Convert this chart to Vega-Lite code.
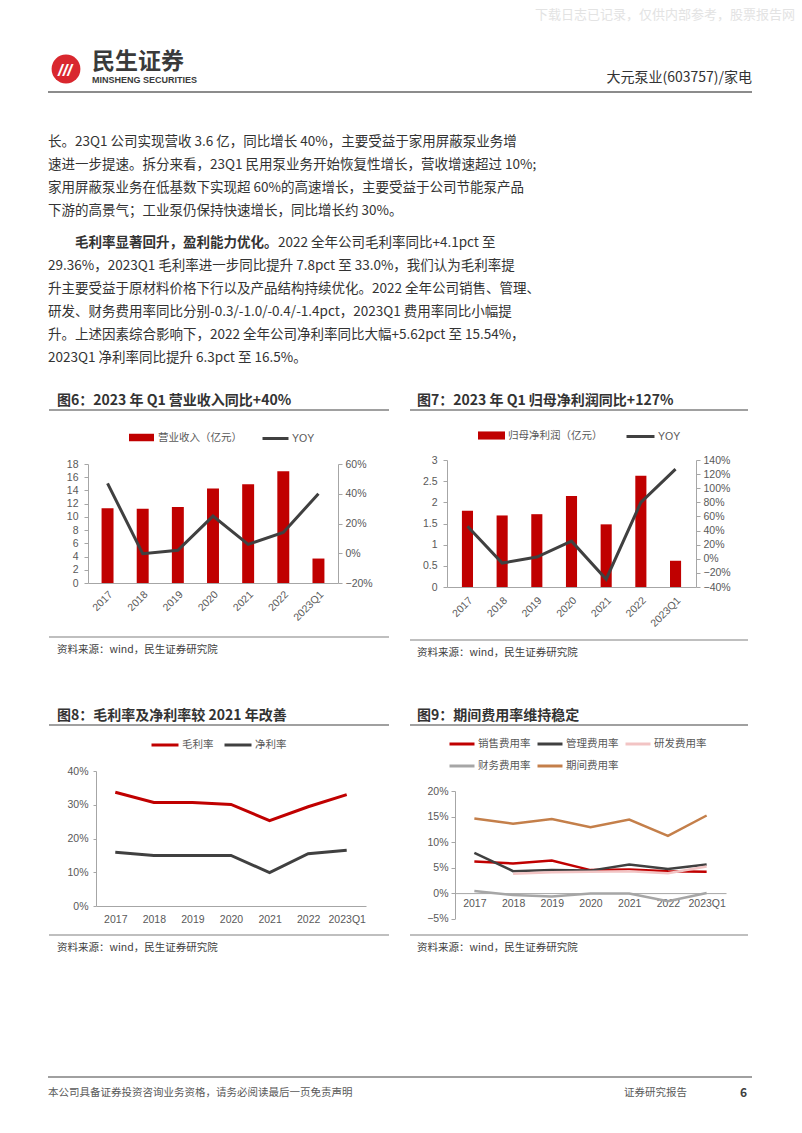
{
  "$schema": "https://vega.github.io/schema/vega-lite/v6.json",
  "background": "white",
  "padding": {"left": 28, "top": 0, "right": 0, "bottom": 0},
  "config": {
    "view": {"stroke": null},
    "font": "Noto Sans CJK SC",
    "axis": {"grid": false, "labelColor": "#595959", "labelFontSize": 10.5, "labelFont": "Liberation Sans", "domainColor": "#A6A6A6", "tickColor": "#A6A6A6"},
    "legend": {"labelFont": "Liberation Sans, Noto Sans CJK SC", "labelFontSize": 10.5, "labelColor": "#595959", "padding": 0}
  },
  "resolve": {"scale": {"color": "independent", "fill": "independent", "stroke": "independent"}, "legend": {"color": "independent", "fill": "independent", "stroke": "independent"}},
  "columns": 1,
  "align": "none",
  "spacing": 0,
  "concat": [
    {
      "width": 704,
      "height": 394,
      "resolve": {"scale": {"y": "independent"}},
      "layer": [
        {
          "data": {"values": [{"t": "下载日志已记录，仅供内部参考，股票报告网"}]},
          "mark": {"type": "text", "align": "left", "baseline": "middle", "fontSize": 13, "color": "#E3E3E3"},
          "encoding": {
            "x": {"datum": 487, "type": "quantitative", "scale": {"domain": [-20, 684], "nice": false, "zero": false}, "axis": null},
            "y": {"datum": 15, "type": "quantitative", "scale": {"domain": [0, 394], "nice": false, "reverse": true}, "axis": null},
            "text": {"field": "t"}
          }
        },
        {
          "data": {"values": [{"t": "logo"}]},
          "mark": {"type": "point", "shape": "circle", "filled": true, "size": 830, "color": "#D9272E", "opacity": 1},
          "encoding": {
            "x": {"datum": 18, "type": "quantitative", "scale": {"domain": [-20, 684], "nice": false, "zero": false}, "axis": null},
            "y": {"datum": 69, "type": "quantitative", "scale": {"domain": [0, 394], "nice": false, "reverse": true}, "axis": null}
          }
        },
        {
          "data": {"values": [{"t": "///"}]},
          "mark": {"type": "text", "align": "center", "baseline": "middle", "fontSize": 17, "fontWeight": "bold", "fontStyle": "italic", "color": "white", "font": "Liberation Sans"},
          "encoding": {
            "x": {"datum": 17, "type": "quantitative", "scale": {"domain": [-20, 684], "nice": false, "zero": false}, "axis": null},
            "y": {"datum": 71, "type": "quantitative", "scale": {"domain": [0, 394], "nice": false, "reverse": true}, "axis": null},
            "text": {"field": "t"}
          }
        },
        {
          "data": {"values": [{"t": "民生证券"}]},
          "mark": {"type": "text", "align": "left", "baseline": "middle", "fontSize": 23, "fontWeight": "bold", "color": "#3A3A3A"},
          "encoding": {
            "x": {"datum": 44, "type": "quantitative", "scale": {"domain": [-20, 684], "nice": false, "zero": false}, "axis": null},
            "y": {"datum": 62, "type": "quantitative", "scale": {"domain": [0, 394], "nice": false, "reverse": true}, "axis": null},
            "text": {"field": "t"}
          }
        },
        {
          "data": {"values": [{"t": "MINSHENG SECURITIES"}]},
          "mark": {"type": "text", "align": "left", "baseline": "middle", "fontSize": 9, "fontWeight": "bold", "color": "#3A3A3A", "font": "Liberation Sans Narrow, Liberation Sans"},
          "encoding": {
            "x": {"datum": 44, "type": "quantitative", "scale": {"domain": [-20, 684], "nice": false, "zero": false}, "axis": null},
            "y": {"datum": 80, "type": "quantitative", "scale": {"domain": [0, 394], "nice": false, "reverse": true}, "axis": null},
            "text": {"field": "t"}
          }
        },
        {
          "data": {"values": [{"t": "大元泵业(603757)/家电"}]},
          "mark": {"type": "text", "align": "right", "baseline": "middle", "fontSize": 14, "color": "#333333"},
          "encoding": {
            "x": {"datum": 704, "type": "quantitative", "scale": {"domain": [-20, 684], "nice": false, "zero": false}, "axis": null},
            "y": {"datum": 78, "type": "quantitative", "scale": {"domain": [0, 394], "nice": false, "reverse": true}, "axis": null},
            "text": {"field": "t"}
          }
        },
        {
          "data": {"values": [{"t": "rule"}]},
          "mark": {"type": "rule", "color": "#8C8C8C", "strokeWidth": 2},
          "encoding": {
            "x": {"datum": 0, "type": "quantitative", "scale": {"domain": [-20, 684], "nice": false, "zero": false}, "axis": null},
            "x2": {"datum": 704},
            "y": {"datum": 92, "type": "quantitative", "scale": {"domain": [0, 394], "nice": false, "reverse": true}, "axis": null}
          }
        },
        {
          "data": {"values": [
            {"line": 0, "text": "长。23Q1 公司实现营收 3.6 亿，同比增长 40%，主要受益于家用屏蔽泵业务增"},
            {"line": 1, "text": "速进一步提速。拆分来看，23Q1 民用泵业务开始恢复性增长，营收增速超过 10%;"},
            {"line": 2, "text": "家用屏蔽泵业务在低基数下实现超 60%的高速增长，主要受益于公司节能泵产品"},
            {"line": 3, "text": "下游的高景气；工业泵仍保持快速增长，同比增长约 30%。"}
          ]},
          "mark": {"type": "text", "align": "left", "baseline": "middle", "fontSize": 13.5, "color": "#333333"},
          "encoding": {
            "x": {"datum": 0, "type": "quantitative", "scale": {"domain": [-20, 684], "nice": false, "zero": false}, "axis": null},
            "y": {"field": "line", "type": "quantitative", "scale": {"domain": [0, 3], "range": [142, 211], "nice": false, "zero": false}, "axis": null},
            "text": {"field": "text"}
          }
        },
        {
          "data": {"values": [{"line": 0, "text": "毛利率显著回升，盈利能力优化。"}]},
          "mark": {"type": "text", "align": "left", "baseline": "middle", "fontSize": 13.5, "fontWeight": "bold", "color": "#333333"},
          "encoding": {
            "x": {"datum": 27, "type": "quantitative", "scale": {"domain": [-20, 684], "nice": false, "zero": false}, "axis": null},
            "y": {"field": "line", "type": "quantitative", "scale": {"domain": [0, 5], "range": [243, 358], "nice": false, "zero": false}, "axis": null},
            "text": {"field": "text"}
          }
        },
        {
          "data": {"values": [{"line": 0, "text": "2022 全年公司毛利率同比+4.1pct 至"}]},
          "mark": {"type": "text", "align": "left", "baseline": "middle", "fontSize": 13.5, "color": "#333333"},
          "encoding": {
            "x": {"datum": 230, "type": "quantitative", "scale": {"domain": [-20, 684], "nice": false, "zero": false}, "axis": null},
            "y": {"field": "line", "type": "quantitative", "scale": {"domain": [0, 5], "range": [243, 358], "nice": false, "zero": false}, "axis": null},
            "text": {"field": "text"}
          }
        },
        {
          "data": {"values": [
            {"line": 1, "text": "29.36%，2023Q1 毛利率进一步同比提升 7.8pct 至 33.0%，我们认为毛利率提"},
            {"line": 2, "text": "升主要受益于原材料价格下行以及产品结构持续优化。2022 全年公司销售、管理、"},
            {"line": 3, "text": "研发、财务费用率同比分别-0.3/-1.0/-0.4/-1.4pct，2023Q1 费用率同比小幅提"},
            {"line": 4, "text": "升。上述因素综合影响下，2022 全年公司净利率同比大幅+5.62pct 至 15.54%，"},
            {"line": 5, "text": "2023Q1 净利率同比提升 6.3pct 至 16.5%。"}
          ]},
          "mark": {"type": "text", "align": "left", "baseline": "middle", "fontSize": 13.5, "color": "#333333"},
          "encoding": {
            "x": {"datum": 0, "type": "quantitative", "scale": {"domain": [-20, 684], "nice": false, "zero": false}, "axis": null},
            "y": {"field": "line", "type": "quantitative", "scale": {"domain": [0, 5], "range": [243, 358], "nice": false, "zero": false}, "axis": null},
            "text": {"field": "text"}
          }
        }
      ]
    },
    {
      "columns": 3,
      "align": "none",
      "spacing": 19,
      "resolve": {"scale": {"color": "independent", "fill": "independent", "stroke": "independent"}, "legend": {"color": "independent", "fill": "independent", "stroke": "independent"}},
      "concat": [
        {
          "width": 1, "height": 1,
          "data": {"values": [{"t": "gap"}]},
          "mark": {"type": "rule", "opacity": 0},
          "encoding": {"x": {"datum": 0, "type": "quantitative", "axis": null}}
        },
        {
          "columns": 1,
          "align": "none",
          "spacing": 13,
          "resolve": {"scale": {"color": "independent", "fill": "independent", "stroke": "independent"}, "legend": {"color": "independent", "fill": "independent", "stroke": "independent"}},
          "concat": [
            {
              "width": 301, "height": 1,
              "data": {"values": [{"t": "r"}]},
              "title": {"text": "图6：2023 年 Q1 营业收入同比+40%", "anchor": "start", "frame": "group", "dx": -31, "offset": 1, "fontSize": 14, "fontWeight": "bold", "color": "#333333", "font": "Noto Sans CJK SC"},
              "mark": {"type": "rule", "color": "#808080", "strokeWidth": 1.5},
              "encoding": {
                "x": {"datum": 0, "type": "quantitative", "scale": {"domain": [39, 340], "nice": false, "zero": false}, "axis": null},
                "x2": {"datum": 340},
                "y": {"datum": 1, "type": "quantitative", "scale": {"domain": [0, 1], "nice": false}, "axis": null}
              }
            },
            {
              "width": 250, "height": 119,
              "data": {"values": [
                {"year": "2017", "rev": 11.3, "yoy": 0.47},
                {"year": "2018", "rev": 11.25, "yoy": -0.003},
                {"year": "2019", "rev": 11.5, "yoy": 0.02},
                {"year": "2020", "rev": 14.3, "yoy": 0.25},
                {"year": "2021", "rev": 14.95, "yoy": 0.06},
                {"year": "2022", "rev": 16.9, "yoy": 0.14},
                {"year": "2023Q1", "rev": 3.7, "yoy": 0.40}
              ]},
              "encoding": {
                "x": {"field": "year", "type": "ordinal", "sort": null, "scale": {"paddingInner": 0.66, "paddingOuter": 0.386}, "axis": {"title": null, "labelAngle": -45, "ticks": false, "labelPadding": 6}}
              },
              "layer": [
                {
                  "mark": {"type": "bar"},
                  "encoding": {
                    "y": {"field": "rev", "type": "quantitative", "scale": {"domain": [0, 18], "nice": false}, "axis": {"title": null, "values": [0, 2, 4, 6, 8, 10, 12, 14, 16, 18], "tickSize": 4, "labelPadding": 6}},
                    "fill": {"datum": "营业收入（亿元）", "scale": {"range": ["#C00000"]}, "legend": {"orient": "none", "legendX": 40, "legendY": -40, "title": null, "symbolType": "M-1,-0.3H1V0.3H-1Z", "symbolSize": 625, "labelOffset": 3}}
                  }
                },
                {
                  "mark": {"type": "line", "strokeWidth": 3},
                  "encoding": {
                    "y": {"field": "yoy", "type": "quantitative", "scale": {"domain": [-0.2, 0.6], "nice": false, "zero": false}, "axis": {"title": null, "orient": "right", "format": ".0%", "values": [-0.2, 0, 0.2, 0.4, 0.6], "tickSize": 4, "labelPadding": 3}},
                    "stroke": {"datum": "YOY", "scale": {"range": ["#404040"]}, "legend": {"orient": "none", "legendX": 173, "legendY": -40, "title": null, "symbolType": "stroke", "symbolSize": 676, "symbolStrokeWidth": 3, "labelOffset": 2}}
                  }
                }
              ],
              "resolve": {"scale": {"y": "independent"}}
            },
            {
              "width": 301, "height": 1,
              "data": {"values": [{"t": "r"}]},
              "title": {"text": "资料来源：wind，民生证券研究院", "orient": "bottom", "anchor": "start", "frame": "group", "dx": -31, "offset": 7, "fontSize": 10.5, "fontWeight": "normal", "color": "#404040", "font": "Noto Sans CJK SC"},
              "mark": {"type": "rule", "color": "#808080", "strokeWidth": 1.2},
              "encoding": {
                "x": {"datum": 0, "type": "quantitative", "scale": {"domain": [39, 340], "nice": false, "zero": false}, "axis": null},
                "x2": {"datum": 340},
                "y": {"datum": 1, "type": "quantitative", "scale": {"domain": [0, 1], "nice": false}, "axis": null}
              }
            }
          ]
        },
        {
          "columns": 1,
          "align": "none",
          "spacing": 10,
          "resolve": {"scale": {"color": "independent", "fill": "independent", "stroke": "independent"}, "legend": {"color": "independent", "fill": "independent", "stroke": "independent"}},
          "concat": [
            {
              "width": 301, "height": 1,
              "data": {"values": [{"t": "r"}]},
              "title": {"text": "图7：2023 年 Q1 归母净利润同比+127%", "anchor": "start", "frame": "group", "dx": -30, "offset": 1, "fontSize": 14, "fontWeight": "bold", "color": "#333333", "font": "Noto Sans CJK SC"},
              "mark": {"type": "rule", "color": "#808080", "strokeWidth": 1.5},
              "encoding": {
                "x": {"datum": 0, "type": "quantitative", "scale": {"domain": [37, 338], "nice": false, "zero": false}, "axis": null},
                "x2": {"datum": 338},
                "y": {"datum": 1, "type": "quantitative", "scale": {"domain": [0, 1], "nice": false}, "axis": null}
              }
            },
            {
              "width": 249, "height": 127,
              "data": {"values": [
                {"year": "2017", "np": 1.80, "yoy": 0.46},
                {"year": "2018", "np": 1.69, "yoy": -0.06},
                {"year": "2019", "np": 1.72, "yoy": 0.025},
                {"year": "2020", "np": 2.15, "yoy": 0.25},
                {"year": "2021", "np": 1.48, "yoy": -0.29},
                {"year": "2022", "np": 2.63, "yoy": 0.80},
                {"year": "2023Q1", "np": 0.62, "yoy": 1.27}
              ]},
              "encoding": {
                "x": {"field": "year", "type": "ordinal", "sort": null, "scale": {"paddingInner": 0.68, "paddingOuter": 0.43}, "axis": {"title": null, "labelAngle": -45, "ticks": false, "labelPadding": 8}}
              },
              "layer": [
                {
                  "mark": {"type": "bar"},
                  "encoding": {
                    "y": {"field": "np", "type": "quantitative", "scale": {"domain": [0, 3], "nice": false}, "axis": {"title": null, "values": [0, 0.5, 1, 1.5, 2, 2.5, 3], "format": "~g", "tickSize": 4, "labelPadding": 6}},
                    "fill": {"datum": "归母净利润（亿元）", "scale": {"range": ["#C00000"]}, "legend": {"orient": "none", "legendX": 30, "legendY": -39, "title": null, "symbolType": "M-1,-0.3H1V0.3H-1Z", "symbolSize": 729, "labelOffset": 2}}
                  }
                },
                {
                  "mark": {"type": "line", "strokeWidth": 3},
                  "encoding": {
                    "y": {"field": "yoy", "type": "quantitative", "scale": {"domain": [-0.4, 1.4], "nice": false, "zero": false}, "axis": {"title": null, "orient": "right", "format": ".0%", "values": [-0.4, -0.2, 0, 0.2, 0.4, 0.6, 0.8, 1.0, 1.2, 1.4], "tickSize": 4, "labelPadding": 3}},
                    "stroke": {"datum": "YOY", "scale": {"range": ["#404040"]}, "legend": {"orient": "none", "legendX": 178, "legendY": -39, "title": null, "symbolType": "stroke", "symbolSize": 784, "symbolStrokeWidth": 3, "labelOffset": 2}}
                  }
                }
              ],
              "resolve": {"scale": {"y": "independent"}}
            },
            {
              "width": 301, "height": 1,
              "data": {"values": [{"t": "r"}]},
              "title": {"text": "资料来源：wind，民生证券研究院", "orient": "bottom", "anchor": "start", "frame": "group", "dx": -30, "offset": 7, "fontSize": 10.5, "fontWeight": "normal", "color": "#404040", "font": "Noto Sans CJK SC"},
              "mark": {"type": "rule", "color": "#808080", "strokeWidth": 1.2},
              "encoding": {
                "x": {"datum": 0, "type": "quantitative", "scale": {"domain": [37, 338], "nice": false, "zero": false}, "axis": null},
                "x2": {"datum": 338},
                "y": {"datum": 1, "type": "quantitative", "scale": {"domain": [0, 1], "nice": false}, "axis": null}
              }
            }
          ]
        }
      ]
    },
    {
      "width": 10, "height": 50,
      "data": {"values": [{"t": "gap"}]},
      "mark": {"type": "rule", "opacity": 0},
      "encoding": {"x": {"datum": 0, "type": "quantitative", "axis": null}}
    },
    {
      "columns": 3,
      "align": "none",
      "spacing": 19,
      "resolve": {"scale": {"color": "independent", "fill": "independent", "stroke": "independent"}, "legend": {"color": "independent", "fill": "independent", "stroke": "independent"}},
      "concat": [
        {
          "width": 1, "height": 1,
          "data": {"values": [{"t": "gap"}]},
          "mark": {"type": "rule", "opacity": 0},
          "encoding": {"x": {"datum": 0, "type": "quantitative", "axis": null}}
        },
        {
          "columns": 1,
          "align": "none",
          "spacing": 4,
          "resolve": {"scale": {"color": "independent", "fill": "independent", "stroke": "independent"}, "legend": {"color": "independent", "fill": "independent", "stroke": "independent"}},
          "concat": [
            {
              "width": 293, "height": 1,
              "data": {"values": [{"t": "r"}]},
              "title": {"text": "图8：毛利率及净利率较 2021 年改善", "anchor": "start", "frame": "group", "dx": -39, "offset": 1, "fontSize": 14, "fontWeight": "bold", "color": "#333333", "font": "Noto Sans CJK SC"},
              "mark": {"type": "rule", "color": "#808080", "strokeWidth": 1.5},
              "encoding": {
                "x": {"datum": 0, "type": "quantitative", "scale": {"domain": [47, 340], "nice": false, "zero": false}, "axis": null},
                "x2": {"datum": 340},
                "y": {"datum": 1, "type": "quantitative", "scale": {"domain": [0, 1], "nice": false}, "axis": null}
              }
            },
            {
              "width": 270, "height": 135,
              "data": {"values": [
                {"year": "2017", "s": "毛利率", "v": 0.337},
                {"year": "2018", "s": "毛利率", "v": 0.307},
                {"year": "2019", "s": "毛利率", "v": 0.307},
                {"year": "2020", "s": "毛利率", "v": 0.301},
                {"year": "2021", "s": "毛利率", "v": 0.253},
                {"year": "2022", "s": "毛利率", "v": 0.294},
                {"year": "2023Q1", "s": "毛利率", "v": 0.330},
                {"year": "2017", "s": "净利率", "v": 0.159},
                {"year": "2018", "s": "净利率", "v": 0.150},
                {"year": "2019", "s": "净利率", "v": 0.150},
                {"year": "2020", "s": "净利率", "v": 0.150},
                {"year": "2021", "s": "净利率", "v": 0.099},
                {"year": "2022", "s": "净利率", "v": 0.155},
                {"year": "2023Q1", "s": "净利率", "v": 0.165}
              ]},
              "mark": {"type": "line", "strokeWidth": 3},
              "encoding": {
                "x": {"field": "year", "type": "ordinal", "sort": null, "scale": {"type": "point", "padding": 0.5}, "axis": {"title": null, "labelAngle": 0, "ticks": false, "labelPadding": 8}},
                "y": {"field": "v", "type": "quantitative", "scale": {"domain": [0, 0.4], "nice": false}, "axis": {"title": null, "format": ".0%", "values": [0, 0.1, 0.2, 0.3, 0.4], "tickSize": 3, "labelPadding": 5}},
                "color": {"field": "s", "type": "nominal", "sort": null, "scale": {"domain": ["毛利率", "净利率"], "range": ["#C00000", "#404040"]}, "legend": {"orient": "none", "legendX": 54, "legendY": -41, "direction": "horizontal", "title": null, "symbolType": "stroke", "symbolSize": 729, "symbolStrokeWidth": 3, "columnPadding": 4, "labelOffset": 2}}
              }
            },
            {
              "width": 293, "height": 6,
              "data": {"values": [{"t": "r"}]},
              "title": {"text": "资料来源：wind，民生证券研究院", "orient": "bottom", "anchor": "start", "frame": "group", "dx": -39, "offset": 7, "fontSize": 10.5, "fontWeight": "normal", "color": "#404040", "font": "Noto Sans CJK SC"},
              "mark": {"type": "rule", "color": "#808080", "strokeWidth": 1.2},
              "encoding": {
                "x": {"datum": 0, "type": "quantitative", "scale": {"domain": [47, 340], "nice": false, "zero": false}, "axis": null},
                "x2": {"datum": 340},
                "y": {"datum": 0, "type": "quantitative", "scale": {"domain": [0, 1], "nice": false}, "axis": null}
              }
            }
          ]
        },
        {
          "columns": 1,
          "align": "none",
          "spacing": 4,
          "resolve": {"scale": {"color": "independent", "fill": "independent", "stroke": "independent"}, "legend": {"color": "independent", "fill": "independent", "stroke": "independent"}},
          "concat": [
            {
              "width": 293, "height": 1,
              "data": {"values": [{"t": "r"}]},
              "title": {"text": "图9：期间费用率维持稳定", "anchor": "start", "frame": "group", "dx": -38, "offset": 1, "fontSize": 14, "fontWeight": "bold", "color": "#333333", "font": "Noto Sans CJK SC"},
              "mark": {"type": "rule", "color": "#808080", "strokeWidth": 1.5},
              "encoding": {
                "x": {"datum": 0, "type": "quantitative", "scale": {"domain": [45, 338], "nice": false, "zero": false}, "axis": null},
                "x2": {"datum": 338},
                "y": {"datum": 1, "type": "quantitative", "scale": {"domain": [0, 1], "nice": false}, "axis": null}
              }
            },
            {
              "width": 271, "height": 127.6,
              "data": {"values": [
                {"year": "2017", "s": "销售费用率", "v": 0.062},
                {"year": "2018", "s": "销售费用率", "v": 0.058},
                {"year": "2019", "s": "销售费用率", "v": 0.064},
                {"year": "2020", "s": "销售费用率", "v": 0.045},
                {"year": "2021", "s": "销售费用率", "v": 0.046},
                {"year": "2022", "s": "销售费用率", "v": 0.043},
                {"year": "2023Q1", "s": "销售费用率", "v": 0.042},
                {"year": "2017", "s": "管理费用率", "v": 0.079},
                {"year": "2018", "s": "管理费用率", "v": 0.043},
                {"year": "2019", "s": "管理费用率", "v": 0.045},
                {"year": "2020", "s": "管理费用率", "v": 0.044},
                {"year": "2021", "s": "管理费用率", "v": 0.056},
                {"year": "2022", "s": "管理费用率", "v": 0.047},
                {"year": "2023Q1", "s": "管理费用率", "v": 0.056},
                {"year": "2018", "s": "研发费用率", "v": 0.038},
                {"year": "2019", "s": "研发费用率", "v": 0.041},
                {"year": "2020", "s": "研发费用率", "v": 0.042},
                {"year": "2021", "s": "研发费用率", "v": 0.043},
                {"year": "2022", "s": "研发费用率", "v": 0.039},
                {"year": "2023Q1", "s": "研发费用率", "v": 0.052},
                {"year": "2017", "s": "财务费用率", "v": 0.004},
                {"year": "2018", "s": "财务费用率", "v": -0.004},
                {"year": "2019", "s": "财务费用率", "v": -0.0065},
                {"year": "2020", "s": "财务费用率", "v": -0.001},
                {"year": "2021", "s": "财务费用率", "v": -0.001},
                {"year": "2022", "s": "财务费用率", "v": -0.016},
                {"year": "2023Q1", "s": "财务费用率", "v": 0.0},
                {"year": "2017", "s": "期间费用率", "v": 0.146},
                {"year": "2018", "s": "期间费用率", "v": 0.136},
                {"year": "2019", "s": "期间费用率", "v": 0.145},
                {"year": "2020", "s": "期间费用率", "v": 0.129},
                {"year": "2021", "s": "期间费用率", "v": 0.144},
                {"year": "2022", "s": "期间费用率", "v": 0.112},
                {"year": "2023Q1", "s": "期间费用率", "v": 0.152}
              ]},
              "mark": {"type": "line", "strokeWidth": 2.5},
              "encoding": {
                "x": {"field": "year", "type": "ordinal", "sort": null, "scale": {"type": "point", "padding": 0.5}, "axis": {"title": null, "labelAngle": 0, "ticks": false, "labelPadding": 5, "offset": -25.5}},
                "y": {"field": "v", "type": "quantitative", "scale": {"domain": [-0.05, 0.2], "nice": false, "zero": false}, "axis": {"title": null, "format": ".0%", "values": [-0.05, 0, 0.05, 0.1, 0.15, 0.2], "tickSize": 4, "labelPadding": 3}},
                "color": {"field": "s", "type": "nominal", "sort": null, "scale": {"domain": ["销售费用率", "管理费用率", "研发费用率", "财务费用率", "期间费用率"], "range": ["#C00000", "#404040", "#F2C4C4", "#A6A6A6", "#C47F4A"]}, "legend": {"orient": "none", "legendX": -7, "legendY": -61, "direction": "horizontal", "columns": 3, "title": null, "symbolType": "stroke", "symbolSize": 625, "symbolStrokeWidth": 3, "columnPadding": 0, "rowPadding": 2, "labelOffset": 2}}
              }
            },
            {
              "width": 293, "height": 6,
              "data": {"values": [{"t": "r"}]},
              "title": {"text": "资料来源：wind，民生证券研究院", "orient": "bottom", "anchor": "start", "frame": "group", "dx": -38, "offset": 7, "fontSize": 10.5, "fontWeight": "normal", "color": "#404040", "font": "Noto Sans CJK SC"},
              "mark": {"type": "rule", "color": "#808080", "strokeWidth": 1.2},
              "encoding": {
                "x": {"datum": 0, "type": "quantitative", "scale": {"domain": [45, 338], "nice": false, "zero": false}, "axis": null},
                "x2": {"datum": 338},
                "y": {"datum": 0, "type": "quantitative", "scale": {"domain": [0, 1], "nice": false}, "axis": null}
              }
            }
          ]
        }
      ]
    },
    {
      "width": 704,
      "height": 150,
      "layer": [
        {
          "data": {"values": [{"t": "rule"}]},
          "mark": {"type": "rule", "color": "#808080", "strokeWidth": 1.5},
          "encoding": {
            "x": {"datum": 0, "type": "quantitative", "scale": {"domain": [-20, 684], "nice": false, "zero": false}, "axis": null},
            "x2": {"datum": 704},
            "y": {"datum": 123, "type": "quantitative", "scale": {"domain": [0, 150], "nice": false, "reverse": true}, "axis": null}
          }
        },
        {
          "data": {"values": [{"t": "本公司具备证券投资咨询业务资格，请务必阅读最后一页免责声明"}]},
          "mark": {"type": "text", "align": "left", "baseline": "middle", "fontSize": 10.5, "color": "#595959"},
          "encoding": {
            "x": {"datum": 0, "type": "quantitative", "scale": {"domain": [-20, 684], "nice": false, "zero": false}, "axis": null},
            "y": {"datum": 139, "type": "quantitative", "scale": {"domain": [0, 150], "nice": false, "reverse": true}, "axis": null},
            "text": {"field": "t"}
          }
        },
        {
          "data": {"values": [{"t": "证券研究报告"}]},
          "mark": {"type": "text", "align": "left", "baseline": "middle", "fontSize": 10.5, "color": "#595959"},
          "encoding": {
            "x": {"datum": 576, "type": "quantitative", "scale": {"domain": [-20, 684], "nice": false, "zero": false}, "axis": null},
            "y": {"datum": 139, "type": "quantitative", "scale": {"domain": [0, 150], "nice": false, "reverse": true}, "axis": null},
            "text": {"field": "t"}
          }
        },
        {
          "data": {"values": [{"t": "6"}]},
          "mark": {"type": "text", "align": "left", "baseline": "middle", "fontSize": 12, "fontWeight": "bold", "color": "#404040"},
          "encoding": {
            "x": {"datum": 692, "type": "quantitative", "scale": {"domain": [-20, 684], "nice": false, "zero": false}, "axis": null},
            "y": {"datum": 139, "type": "quantitative", "scale": {"domain": [0, 150], "nice": false, "reverse": true}, "axis": null},
            "text": {"field": "t"}
          }
        }
      ]
    }
  ]
}
